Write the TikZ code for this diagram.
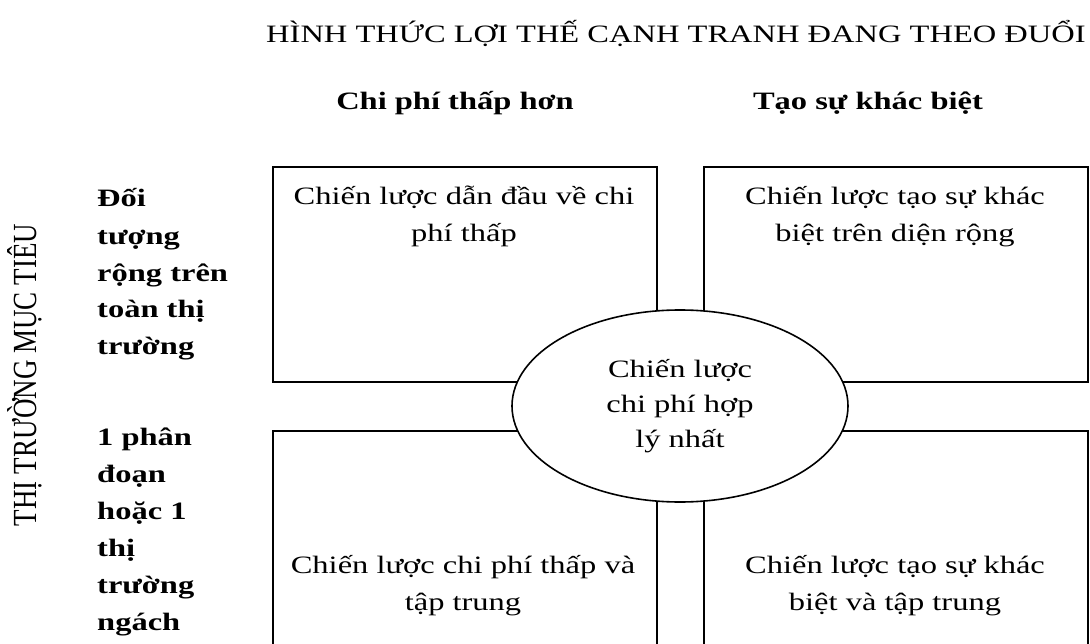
\documentclass[tikz,border=0pt]{standalone}
\usepackage{graphicx}
\usepackage{fontspec}
\setmainfont{Liberation Serif}[FakeStretch=1.3]
\newfontfamily\sidefont{Liberation Serif}
\usetikzlibrary{shapes.geometric,positioning}

\begin{document}
\begin{tikzpicture}[x=1pt,y=-1pt,
  quad/.style={draw,line width=1.6pt,inner sep=0,minimum width=384pt,anchor=north west},
  quadtxt/.style={inner sep=0,align=center,anchor=base,font=\fontsize{25}{37}\selectfont},
  rowlab/.style={inner sep=0,align=left,anchor=base west,font=\fontsize{25}{37}\selectfont\bfseries},
  colhead/.style={inner sep=0,anchor=base,font=\fontsize{25}{30}\selectfont\bfseries},
  hub/.style={draw,ellipse,fill=white,line width=1.6pt,inner sep=0,minimum width=336pt,minimum height=192pt,align=center,font=\fontsize{25}{35}\selectfont}
  ]
  \useasboundingbox (0,0) rectangle (1090,644);
  %
  % Headings
  %
  \node(title) [inner sep=0,anchor=base,font=\fontsize{25}{30}\selectfont] at (676,43) {HÌNH THỨC LỢI THẾ CẠNH TRANH ĐANG THEO ĐUỔI};
  \node(lowcost)[colhead] at (455,110) {Chi phí thấp hơn};
  \node(diff)   [colhead] at (868,110) {Tạo sự khác biệt};
  \node(market) [inner sep=0,anchor=base,rotate=90,font=\sidefont\fontsize{27}{32}\selectfont] at (36,375) {\scalebox{1}[1.25]{THỊ TRƯỜNG MỤC TIÊU}};
  % (base = last line)
  \node(broad)  [rowlab] at (97,355) {Đối\\tượng\\rộng trên\\toàn thị\\trường};
  \node(niche)  [rowlab] at (97,630) {1 phân\\đoạn\\hoặc 1\\thị\\trường\\ngách};
  %
  % Quadrants
  %
  \node(tl)[quad,minimum height=215pt] at (272,166) {};
  \node(tr)[quad,minimum height=215pt] at (703,166) {};
  \node(bl)[quad,minimum height=240pt] at (272,430) {};
  \node(br)[quad,minimum height=240pt] at (703,430) {};
  \node(tltxt)[quadtxt] at (464,242) {Chiến lược dẫn đầu về chi\\phí thấp};
  \node(trtxt)[quadtxt] at (895,242) {Chiến lược tạo sự khác\\biệt trên diện rộng};
  \node(bltxt)[quadtxt] at (463,610) {Chiến lược chi phí thấp và\\tập trung};
  \node(brtxt)[quadtxt] at (895,610) {Chiến lược tạo sự khác\\biệt và tập trung};
  %
  % Centre
  %
  \node(best)[hub] at (680,406) {Chiến lược\\chi phí hợp\\lý nhất};
\end{tikzpicture}
\end{document}
